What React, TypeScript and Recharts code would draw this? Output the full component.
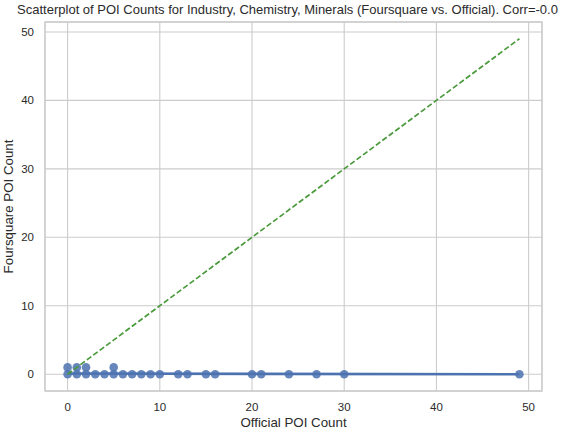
import React from "react";
import {
  ComposedChart,
  Scatter,
  XAxis,
  YAxis,
  CartesianGrid,
  ReferenceArea,
  Label,
} from "recharts";

const officialCounts = [0, 1, 2, 3, 4, 5, 6, 7, 8, 9, 10, 12, 13, 15, 16, 20, 21, 24, 27, 30, 49, 0, 1, 2, 5];
const foursquareCounts = [0, 0, 0, 0, 0, 0, 0, 0, 0, 0, 0, 0, 0, 0, 0, 0, 0, 0, 0, 0, 0, 1, 1, 1, 1];
const regressionX = [0, 49];
const regressionY = [0.1, -0.01];
const identityX = [0, 49];
const identityY = [0, 49];
const xTicks = [0, 10, 20, 30, 40, 50];
const yTicks = [0, 10, 20, 30, 40, 50];

const points = officialCounts.map((x, i) => ({ x, y: foursquareCounts[i] }));
const regression = regressionX.map((x, i) => ({ x, y: regressionY[i] }));
const identity = identityX.map((x, i) => ({ x, y: identityY[i] }));

const FONT = "'Liberation Sans', Arial, sans-serif";
const TEXT = "#2a2a2a";
const GRID = "#cccccc";
const DOMAIN: [number, number] = [-2.45, 51.45];

const Dot = (props: any) => (
  <circle cx={props.cx} cy={props.cy} r={4.3} fill="#4c72b0" fillOpacity={0.85} />
);
const NoDot = () => <g />;

export default function App() {
  return (
    <div style={{ position: "absolute", left: 0, top: 0, width: 575, height: 433, background: "#fff", fontFamily: FONT }}>
      <div
        style={{
          position: "absolute",
          top: 2,
          left: 0,
          width: 575,
          textAlign: "center",
          fontSize: 13,
          color: TEXT,
          whiteSpace: "nowrap",
        }}
      >
        Scatterplot of POI Counts for Industry, Chemistry, Minerals (Foursquare vs. Official). Corr=-0.0
      </div>
      <ComposedChart
        width={575}
        height={433}
        margin={{ top: 22, right: 33, bottom: 12, left: 8 }}
        style={{ fontFamily: FONT }}
      >
        <CartesianGrid stroke={GRID} strokeWidth={1.1} />
        <ReferenceArea
          x1={DOMAIN[0]}
          x2={DOMAIN[1]}
          y1={DOMAIN[0]}
          y2={DOMAIN[1]}
          fill="none"
          stroke={GRID}
          strokeWidth={1.3}
          ifOverflow="visible"
        />
        <XAxis
          type="number"
          dataKey="x"
          domain={DOMAIN}
          ticks={xTicks}
          allowDataOverflow
          height={30}
          axisLine={false}
          tickLine={false}
          tickSize={0}
          tickMargin={12}
          tick={{ fill: TEXT, fontSize: 11.5, fontFamily: FONT }}
        >
          <Label value="Official POI Count" position="bottom" offset={-3} fill={TEXT} fontSize={13.3} fontFamily={FONT} />
        </XAxis>
        <YAxis
          type="number"
          dataKey="y"
          domain={DOMAIN}
          ticks={yTicks}
          allowDataOverflow
          width={37}
          axisLine={false}
          tickLine={false}
          tickSize={0}
          tickMargin={11}
          tick={{ fill: TEXT, fontSize: 11.5, fontFamily: FONT }}
        >
          <Label
            value="Foursquare POI Count"
            angle={-90}
            position="insideLeft"
            offset={0}
            style={{ textAnchor: "middle" }}
            fill={TEXT}
            fontSize={13.3}
            fontFamily={FONT}
          />
        </YAxis>
        <Scatter
          data={regression}
          line={{ stroke: "#4c72b0", strokeWidth: 2.6 }}
          shape={NoDot}
          isAnimationActive={false}
        />
        <Scatter data={points} shape={Dot} isAnimationActive={false} />
        <Scatter
          data={identity}
          line={{ stroke: "#4a9a3c", strokeWidth: 1.7, strokeDasharray: "5.5 2.5" }}
          shape={NoDot}
          isAnimationActive={false}
        />
      </ComposedChart>
    </div>
  );
}
